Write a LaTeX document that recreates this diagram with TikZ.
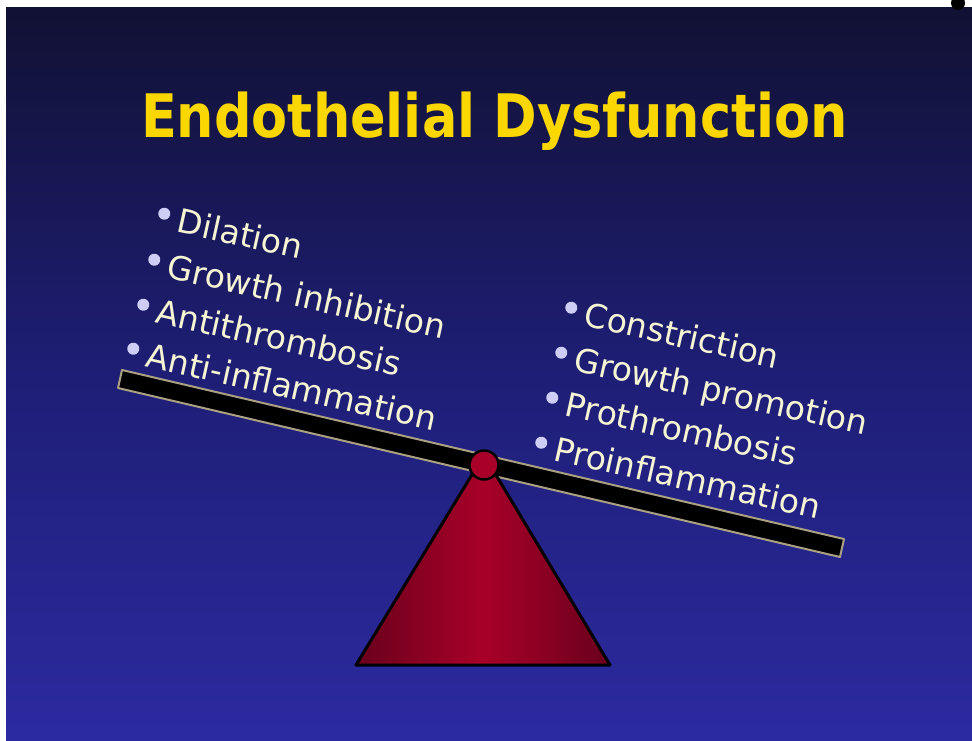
\documentclass[tikz,border=0pt]{standalone}
\usepackage{fontspec}
\setmainfont{DejaVu Sans}
\definecolor{bgtop}{RGB}{17,17,52}
\definecolor{bgmid}{RGB}{30,30,118}
\definecolor{bgbot}{RGB}{44,42,160}
\definecolor{titleyellow}{RGB}{250,215,0}
\definecolor{cream}{RGB}{245,245,212}
\definecolor{bulletc}{RGB}{205,205,245}
\definecolor{beamedge}{RGB}{170,160,130}
\definecolor{crimson}{RGB}{168,0,40}
\definecolor{darkcrimson}{RGB}{105,0,28}
\newcommand{\bul}{\tikz[baseline=-15pt]\fill[bulletc] (0pt,0pt) circle (6pt);\hspace{9pt}}

\begin{document}
\begin{tikzpicture}[x=1pt, y=-1pt,
  item/.style={rotate=-12.5, anchor=base west, inner sep=0pt, text=cream,
    font=\fontsize{33}{40}\selectfont},
  beam/.style={fill=black, draw=beamedge, line width=2pt, line join=round}]
\useasboundingbox (0,0) rectangle (972,740);
\shade[top color=bgtop, bottom color=bgbot, middle color=bgmid] (6,7) rectangle (972,740);
\fill[black] (958,3) circle (7);
\node[anchor=base, inner sep=0pt, text=titleyellow, xscale=0.875,
  font=\bfseries\fontsize{60}{70}\selectfont] (title) at (494.5,137) {Endothelial Dysfunction};
% the scale
\draw[beam] (122,370) -- (844,539) -- (840,557) -- (118,388) -- cycle;
\shadedraw[left color=darkcrimson, right color=darkcrimson, middle color=crimson,
  draw=black, line width=3pt, line join=round] (356,665) -- (484,455) -- (610,665) -- cycle;
\draw[fill=crimson, line width=2.5pt] (484,465) circle (14.5);
% left side
\node[item] (L1) at (155,227) {\bul Dilation};
\node[item] (L2) at (145,273) {\bul Growth inhibition};
\node[item] (L3) at (134,318) {\bul Antithrombosis};
\node[item] (L4) at (124,362) {\bul Anti-inflammation};
% right side
\node[item] (R1) at (562,321) {\bul Constriction};
\node[item] (R2) at (552,366) {\bul Growth promotion};
\node[item] (R3) at (543,411) {\bul Prothrombosis};
\node[item] (R4) at (532,456) {\bul Proinflammation};
\end{tikzpicture}
\end{document}
